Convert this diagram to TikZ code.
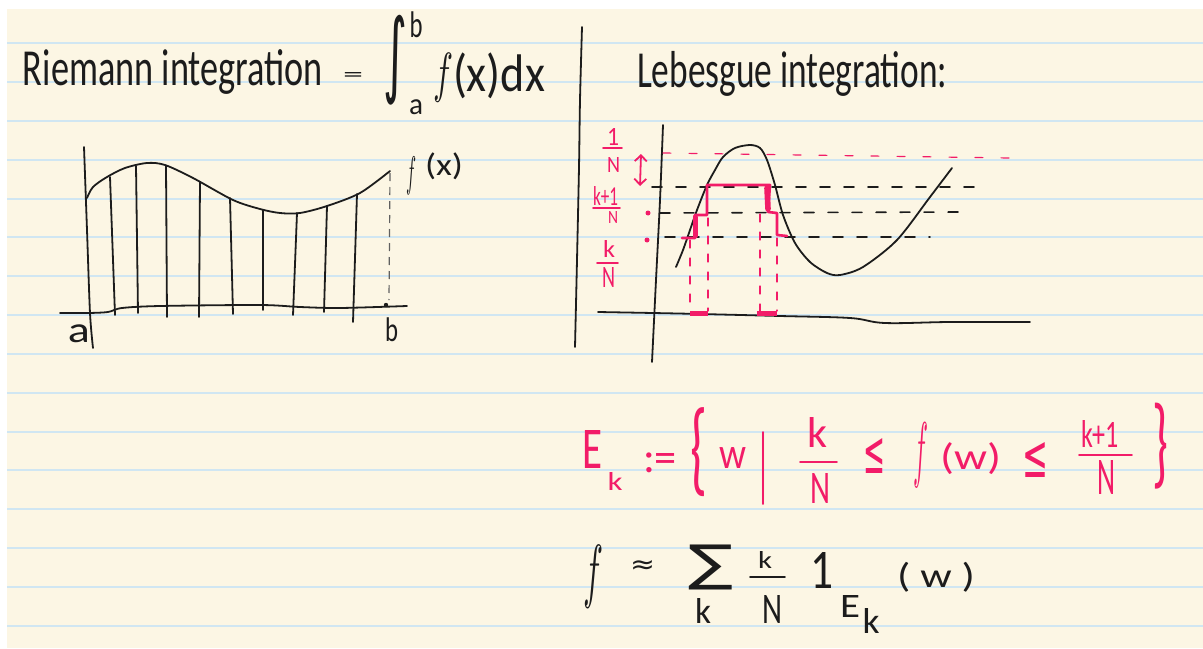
\documentclass[tikz,border=0pt]{standalone}
\usepackage{fontspec}
\usepackage{graphicx}
\setmainfont{Carlito}
\newfontfamily\symf{DejaVu Sans}
\usetikzlibrary{arrows.meta}
\newlength\pxu \setlength\pxu{0.5pt}
\newcommand\G[3]{\resizebox*{#1\pxu}{#2\pxu}{#3}}
\newcommand\fitw[2]{\resizebox{#1\pxu}{\height}{#2}}
\definecolor{cream}{RGB}{252,246,228}
\definecolor{rulec}{RGB}{208,230,242}
\definecolor{inkc}{RGB}{28,28,28}
\definecolor{pinkc}{RGB}{242,28,104}
\begin{document}
\begin{tikzpicture}[x=0.5pt,y=-0.5pt,
  ink/.style={draw=inkc,line width=0.9pt,line cap=round,line join=round},
  pk/.style={draw=pinkc,line width=0.9pt,line cap=round,line join=round},
  gl/.style={inner sep=0pt,outer sep=0pt,anchor=center,text=inkc},
  pgl/.style={gl,text=pinkc},
  title/.style={inner sep=0pt,outer sep=0pt,anchor=base west,text=inkc,font=\fontsize{26}{26}\selectfont},
  inkdash/.style={ink,line width=0.8pt,dash pattern=on 5pt off 7pt},
  pkdash/.style={pk,line width=0.6pt,dash pattern=on 4pt off 5pt},
]
\useasboundingbox (0,0) rectangle (1203,648);
\fill[white] (0,0) rectangle (1203,648);
\fill[cream] (7,9) rectangle (1203,648);
\foreach \i in {0,...,15} \draw[rulec,line width=1pt] (7,{43.3+38.83*\i}) -- (1203,{43.3+38.83*\i});

% divider
\draw[ink] plot[smooth] coordinates {(582,27) (580,100) (579,167) (577,260) (575,347)};

% ---------- Riemann ----------
\node[title] (rtitle) at (23,85) {\fitw{300}{Riemann integration}};
\node[gl] (req) at (353,76.5) {\G{20}{9}{=}};
\node[gl] (rint) at (395,60) {\G{24}{90}{\symf ∫}};
\node[gl] (rsup) at (416,25) {\G{13}{26}{b}};
\node[gl] (rsub) at (416,107.5) {\G{14}{15}{a}};
\node[gl] (rf) at (443,77.5) {\G{20}{49}{$f$}};
\node[gl] (rxdx) at (499,76) {\G{92}{46}{(x)dx}};

\draw[ink] plot[smooth] coordinates {(84,147) (87,230) (90,313) (93,348)};
\draw[ink] plot[smooth,tension=0.5] coordinates {(60,313) (88,313) (108,312) (122,308) (160,306) (260,305) (300,307) (340,308) (407,306)};
\draw[ink] plot[smooth] coordinates {(87,198) (93,187) (107,177) (125,168) (147,163) (165,165) (193,178) (233,200) (260,209) (280,213) (300,213) (327,206) (360,193) (390,171)};
\foreach \a/\b/\c/\d in {110/177/115/315, 136/166/138/313, 166/166/167/317, 200/182/199/317, 230/198/233/314, 263/210/263/310, 297/213/293/315, 327/206/324/312, 357/194/353/322}
  \draw[ink] (\a,\b) -- (\c,\d);
\draw[draw=inkc!70,line width=0.6pt,dash pattern=on 4pt off 3pt] (390,173) -- (389,300);
\fill[inkc] (386,305) circle (2.2);
\node[gl] (ra) at (79,334) {\G{22}{18}{a}};
\node[gl] (rb) at (391.5,330) {\G{13}{24}{b}};
\node[gl] (rfx) at (411,176) {\G{10}{38}{$f$}};
\node[gl] (rfxx) at (444,166.5) {\G{38}{27}{(x)}};

% ---------- Lebesgue ----------
\node[title] (ltitle) at (637,87) {\fitw{310}{Lebesgue integration:}};

\draw[ink] plot[smooth] coordinates {(663,125) (660,200) (656,280) (652,362)};
\draw[ink] plot[smooth,tension=0.6] coordinates {(598,312) (653,313) (700,314) (780,316) (850,318) (885,323) (950,322) (1030,322)};
\draw[ink] plot[smooth] coordinates {(676,267) (683,250) (690,230) (697,210) (707,185) (715,170) (723,157) (735,148) (750,145) (760,148) (767,160) (775,185) (783,215) (795,243) (810,262) (827,273) (840,275) (863,267) (897,240) (930,197) (952,168)};

\draw[pk,line width=0.6pt,dash pattern=on 4pt off 9pt] (663,153) -- (1010,158);
\draw[inkdash] (652,187) -- (980,187);
\draw[inkdash] (660,213) -- (962,212);
\draw[inkdash] (665,237) -- (930,237);

\draw[pk,line width=1.3pt] (682,238) -- (695,238) -- (695,215) -- (707,215) -- (707,185) -- (770,185) -- (768,212) -- (777,213) -- (777,235) -- (787,236);
\draw[pk,line width=2.5pt] (695,217) -- (695,236);
\draw[pk,line width=2.8pt] (767,188) -- (768,209);
\draw[pkdash] (690,240) -- (690,311);
\draw[pkdash] (708,218) -- (708,311);
\draw[pkdash] (760,214) -- (760,311);
\draw[pkdash] (777,238) -- (777,311);
\draw[pk,line width=2.5pt,line cap=butt] (690,313) -- (708,313);
\draw[pk,line width=2.5pt,line cap=butt] (757,313) -- (777,313);
\draw[pk,{Straight Barb[length=3pt,width=6pt]}-{Straight Barb[length=3pt,width=6pt]}] (641,154) -- (640,186);
\fill[pinkc] (648,213) circle (2.5);
\fill[pinkc] (647,240) circle (2.5);

\node[pgl] (l1) at (613,136.5) {\G{12}{17}{1}};
\draw[pk] (603,148) -- (622,148);
\node[pgl] (l1n) at (613.5,164.5) {\G{13}{15}{N}};
\node[pgl] (lk1) at (605.5,195.5) {\G{25}{19}{k+1}};
\draw[pk] (593,208) -- (620,208);
\node[pgl] (lk1n) at (613,217) {\G{10}{12}{N}};
\node[pgl] (lk) at (609,248.5) {\G{12}{17}{k}};
\draw[pk] (597,263) -- (618,263);
\node[pgl] (lkn) at (608.5,277) {\G{13}{20}{N}};

% ---------- E_k definition ----------
\node[pgl] (eE) at (592,449) {\G{20}{38}{E}};
\node[pgl] (ek) at (615,481) {\G{15}{18}{k}};
\node[pgl] (edef) at (660,463) {\G{34}{20}{:=}};
\node[pgl] (elb) at (698.5,452.5) {\G{17}{89}{\{}};
\node[pgl] (ew) at (732.5,458) {\G{27}{21}{w}};
\node[pgl] (ebar) at (763,468.5) {\G{14}{73}{|}};
\node[pgl] (efk) at (817,432) {\G{20}{30}{k}};
\draw[pk] (800,462) -- (837,462);
\node[pgl] (efn) at (820,488) {\G{20}{30}{N}};
\node[pgl] (ele1) at (874,455.5) {\G{22}{35}{\symf ≤}};
\node[pgl] (ef) at (920.5,455.5) {\G{15}{65}{$f$}};
\node[pgl] (efw) at (970.5,459) {\G{61}{32}{(w)}};
\node[pgl] (ele2) at (1035,459.5) {\G{26}{35}{\symf ≤}};
\node[pgl] (egk) at (1100,433.5) {\G{38}{27}{k+1}};
\draw[pk] (1079,455) -- (1132,455);
\node[pgl] (egn) at (1106,477) {\G{18}{34}{N}};
\node[pgl] (erb) at (1160,446) {\G{16}{86}{\}}};

% ---------- sum ----------
\node[gl] (sf) at (593,576.5) {\G{20}{63}{$f$}};
\node[gl] (sapprox) at (642.5,566.5) {\G{25}{13}{\symf ≈}};
\node[gl] (ssum) at (710.5,567.5) {\G{45}{45}{\symf ∑}};
\node[gl] (ssumk) at (703,610.5) {\G{16}{25}{k}};
\node[gl] (sfk) at (765,560) {\G{14}{17}{k}};
\draw[ink] (750,577) -- (785,577);
\node[gl] (sfn) at (772,609) {\G{20}{28}{N}};
\node[gl] (sone) at (821.5,570) {\G{23}{36}{1}};
\node[gl] (sE) at (850,606) {\G{20}{22}{E}};
\node[gl] (sEk) at (871,620.5) {\G{17}{25}{k}};
\node[gl] (sw) at (936,577) {\G{78}{30}{( w )}};
\end{tikzpicture}
\end{document}
